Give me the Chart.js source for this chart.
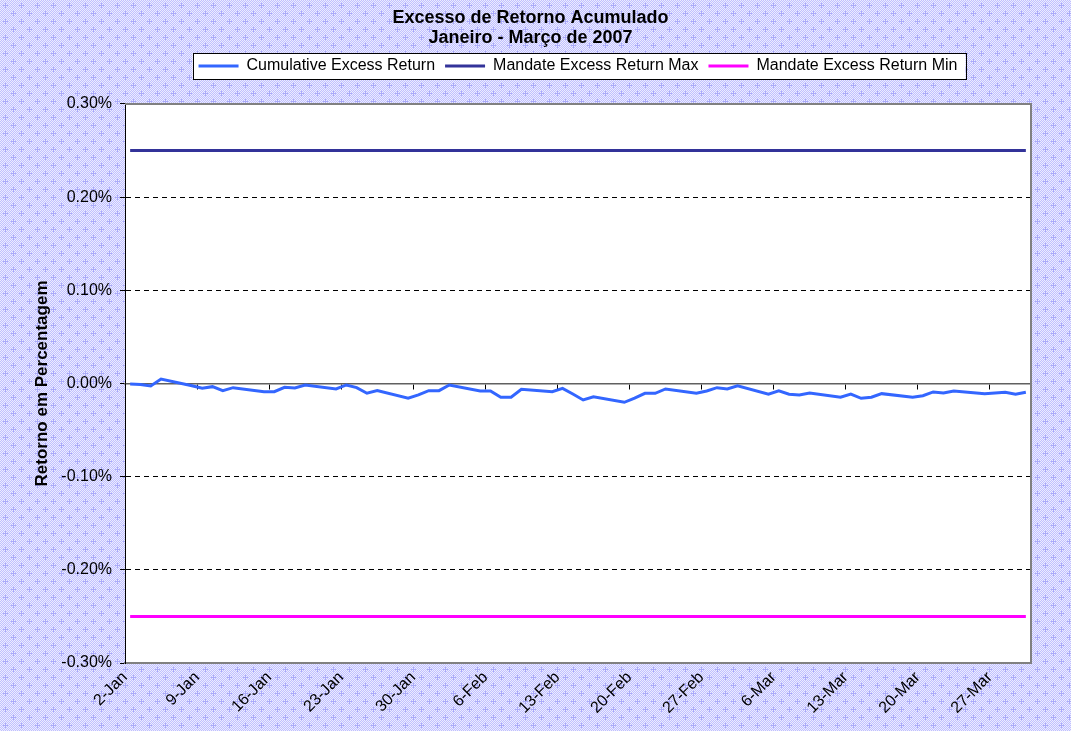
<!DOCTYPE html>
<html>
<head>
<meta charset="utf-8">
<script src="https://cdn.jsdelivr.net/npm/chart.js@4.4.0/dist/chart.umd.min.js"></script>
<style>
  html, body { margin: 0; padding: 0; background: #fff; }
  canvas { display: block; }
</style>
</head>
<body>
<canvas id="excessChart" width="1071" height="731"></canvas>
<script>
// data

const tradeDates = [
  '2007-01-02', '2007-01-03', '2007-01-04', '2007-01-05',
  '2007-01-08', '2007-01-09', '2007-01-10', '2007-01-11', '2007-01-12',
  '2007-01-15', '2007-01-16', '2007-01-17', '2007-01-18', '2007-01-19',
  '2007-01-22', '2007-01-23', '2007-01-24', '2007-01-25', '2007-01-26',
  '2007-01-29', '2007-01-30', '2007-01-31', '2007-02-01', '2007-02-02',
  '2007-02-05', '2007-02-06', '2007-02-07', '2007-02-08', '2007-02-09',
  '2007-02-12', '2007-02-13', '2007-02-14', '2007-02-15', '2007-02-16',
  '2007-02-19', '2007-02-20', '2007-02-21', '2007-02-22', '2007-02-23',
  '2007-02-26', '2007-02-27', '2007-02-28', '2007-03-01', '2007-03-02',
  '2007-03-05', '2007-03-06', '2007-03-07', '2007-03-08', '2007-03-09',
  '2007-03-12', '2007-03-13', '2007-03-14', '2007-03-15', '2007-03-16',
  '2007-03-19', '2007-03-20', '2007-03-21', '2007-03-22', '2007-03-23',
  '2007-03-26', '2007-03-27', '2007-03-28', '2007-03-29', '2007-03-30'
];

// cumulative excess return, in %
const cumulativeExcess = [
  -0.0005, -0.0010, -0.0027, 0.0048,
  -0.0025, -0.0052, -0.0034, -0.0077, -0.0045,
  -0.0088, -0.0088, -0.0041, -0.0048, -0.0016,
  -0.0059, -0.0016, -0.0045, -0.0105, -0.0077,
  -0.0159, -0.0123, -0.0077, -0.0077, -0.0016,
  -0.0080, -0.0080, -0.0148, -0.0148, -0.0062,
  -0.0088, -0.0052, -0.0113, -0.0177, -0.0142,
  -0.0202, -0.0156, -0.0105, -0.0105, -0.0059,
  -0.0105, -0.0080, -0.0045, -0.0059, -0.0024,
  -0.0116, -0.0080, -0.0116, -0.0123, -0.0102,
  -0.0148, -0.0113, -0.0159, -0.0148, -0.0109,
  -0.0148, -0.0131, -0.0091, -0.0102, -0.0080,
  -0.0109, -0.0102, -0.0094, -0.0116, -0.0094
];

const mandateMax = 0.25;
const mandateMin = -0.25;

const weekLabels = ['2-Jan', '9-Jan', '16-Jan', '23-Jan', '30-Jan', '6-Feb', '13-Feb',
  '20-Feb', '27-Feb', '6-Mar', '13-Mar', '20-Mar', '27-Mar'];

const seriesNames = ['Cumulative Excess Return', 'Mandate Excess Return Max', 'Mandate Excess Return Min'];
const seriesColors = ['#3366ff', '#333399', '#ff00ff'];

const titleLines = ['Excesso de Retorno Acumulado', 'Janeiro - Março de 2007'];
const yTitle = 'Retorno em Percentagem';

// date helpers (day 0 = 2-Jan)

const DAY_MS = 86400000;
const firstDay = Date.parse('2007-01-02');
const toDay = (d) => (Date.parse(d) - firstDay) / DAY_MS;

const axisStart = -0.5;
const axisEnd = toDay('2007-03-31') - 0.5;
const weekTicks = weekLabels.map((_, i) => ({ value: i * 7 + axisStart }));

const cumulativePoints = tradeDates.map((d, i) => ({ x: toDay(d), y: cumulativeExcess[i] }));
const firstX = toDay(tradeDates[0]);
const lastX = toDay(tradeDates[tradeDates.length - 1]);

const FONT = "'Liberation Sans', Arial, sans-serif";

// background pattern

const makePattern = (ctx) => {
  const tile = document.createElement('canvas');
  tile.width = 16;
  tile.height = 16;
  const t = tile.getContext('2d');
  t.fillStyle = '#c0c0ff';
  t.fillRect(0, 0, 16, 16);
  t.fillStyle = '#ececff';
  for (let y = 0; y < 16; y++) {
    for (let x = 0; x < 16; x++) {
      if ((x + y) % 2 === 0) t.fillRect(x, y, 1, 1);
    }
  }
  t.fillStyle = '#aaaaf8';
  t.fillRect(5, 3, 1, 5);
  t.fillRect(3, 5, 5, 1);
  t.fillRect(13, 11, 1, 5);
  t.fillRect(11, 13, 5, 1);
  return ctx.createPattern(tile, 'repeat');
};

let bgPattern = null;

const backdrop = {
  id: 'backdrop',
  beforeUpdate(chart) {
    // push the plot area down below the legend box
    const legend = chart.legend;
    if (legend && !legend._gapWrapped) {
      const fit = legend.fit;
      legend.fit = function () {
        fit.call(this);
        this.height += 20;
      };
      legend._gapWrapped = true;
    }
  },
  afterLayout(chart) {
    // center the legend over the plot area, like excel does
    const { legend, chartArea } = chart;
    const shift = (chartArea.left + chartArea.right) / 2 - (legend.left + legend.right) / 2;
    legend.left += shift;
    legend.right += shift;
  },
  beforeDraw(chart) {
    const { ctx, chartArea } = chart;
    if (!bgPattern) bgPattern = makePattern(ctx);
    ctx.save();
    ctx.fillStyle = bgPattern;
    ctx.fillRect(0, 0, chart.width, chart.height);
    ctx.fillStyle = '#ffffff';
    ctx.fillRect(chartArea.left, chartArea.top, chartArea.right - chartArea.left, chartArea.bottom - chartArea.top);

    // legend frame
    const boxes = chart.legend.legendHitBoxes;
    if (boxes && boxes.length) {
      const first = boxes[0];
      const last = boxes[boxes.length - 1];
      const left = first.left - 6;
      const right = last.left + last.width + 8;
      const top = first.top - 5;
      const h = first.height + 10;
      ctx.fillStyle = '#ffffff';
      ctx.fillRect(left, top, right - left, h);
      ctx.strokeStyle = '#000000';
      ctx.lineWidth = 1;
      ctx.strokeRect(Math.round(left) + 0.5, Math.round(top) + 0.5, Math.round(right - left), Math.round(h));
    }
    ctx.restore();
  },
  beforeDatasetsDraw(chart) {
    // gray frame on top and right of the plot area
    const { ctx, chartArea } = chart;
    ctx.save();
    ctx.strokeStyle = '#808080';
    ctx.lineWidth = 2;
    ctx.beginPath();
    ctx.moveTo(chartArea.left, chartArea.top);
    ctx.lineTo(chartArea.right, chartArea.top);
    ctx.lineTo(chartArea.right, chartArea.bottom);
    ctx.stroke();
    ctx.restore();
  }
};

const ctx = document.getElementById('excessChart').getContext('2d');

const chart = new Chart(ctx, {
  type: 'line',
  data: {
    datasets: [
      {
        label: seriesNames[0],
        data: cumulativePoints,
        borderColor: seriesColors[0],
        backgroundColor: seriesColors[0],
        borderWidth: 3,
        pointRadius: 0,
        tension: 0,
        fill: false
      },
      {
        label: seriesNames[1],
        data: [{ x: firstX, y: mandateMax }, { x: lastX, y: mandateMax }],
        borderColor: seriesColors[1],
        backgroundColor: seriesColors[1],
        borderWidth: 3,
        pointRadius: 0,
        fill: false
      },
      {
        label: seriesNames[2],
        data: [{ x: firstX, y: mandateMin }, { x: lastX, y: mandateMin }],
        borderColor: seriesColors[2],
        backgroundColor: seriesColors[2],
        borderWidth: 3,
        pointRadius: 0,
        fill: false
      }
    ]
  },
  options: {
    responsive: false,
    animation: false,
    events: [],
    layout: {
      padding: { top: 0, left: 30, right: 40, bottom: 0 }
    },
    plugins: {
      title: {
        display: true,
        text: titleLines,
        color: '#000',
        font: { family: FONT, size: 18, weight: 'bold', lineHeight: 1.11 },
        padding: { top: 8, bottom: 0 }
      },
      legend: {
        display: true,
        position: 'top',
        labels: {
          color: '#000',
          font: { family: FONT, size: 16 },
          usePointStyle: true,
          pointStyle: 'line',
          pointStyleWidth: 40,
          padding: 10
        }
      },
      tooltip: { enabled: false }
    },
    scales: {
      x: {
        type: 'linear',
        position: 'bottom',
        min: axisStart,
        max: axisEnd,
        afterBuildTicks: (scale) => { scale.ticks = weekTicks.map((t) => ({ ...t })); },
        afterFit: (scale) => { scale.height = 68; },
        grid: { display: false, drawTicks: false },
        border: { display: true, color: '#808080', width: 2 },
        ticks: {
          autoSkip: false,
          maxRotation: 45,
          minRotation: 45,
          padding: 5,
          color: '#000',
          font: { family: FONT, size: 16 },
          callback: (value, index) => weekLabels[index]
        }
      },
      xZero: {
        type: 'linear',
        axis: 'x',
        position: { y: 0 },
        min: axisStart,
        max: axisEnd,
        afterBuildTicks: (scale) => { scale.ticks = weekTicks.map((t) => ({ ...t })); },
        grid: { display: true, drawOnChartArea: false, drawTicks: true, tickLength: 5, tickColor: '#000', tickWidth: 1 },
        border: { display: true, color: '#606060', width: 1.5 },
        ticks: { display: false }
      },
      y: {
        type: 'linear',
        position: 'left',
        min: -0.3,
        max: 0.3,
        afterFit: (scale) => { scale.width = 95; },
        ticks: {
          stepSize: 0.1,
          padding: 8,
          color: '#000',
          font: { family: FONT, size: 16 },
          callback: (value) => value.toFixed(2) + '%'
        },
        grid: {
          color: (c) => {
            const v = c.tick ? c.tick.value : 0;
            if (Math.abs(v) < 1e-9 || Math.abs(Math.abs(v) - 0.3) < 1e-9) return 'rgba(0,0,0,0)';
            return '#000';
          },
          lineWidth: 1,
          tickLength: 5,
          tickColor: '#000'
        },
        border: { display: true, color: '#000', width: 1, dash: [5, 4] },
        title: {
          display: true,
          text: yTitle,
          color: '#000',
          font: { family: FONT, size: 17, weight: 'bold' },
          padding: { top: 2, bottom: 0 }
        }
      }
    }
  },
  plugins: [backdrop]
});
</script>
</body>
</html>
